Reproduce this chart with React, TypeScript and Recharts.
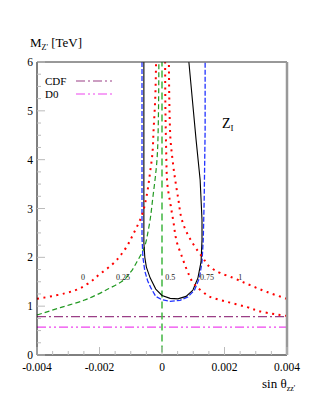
import React from 'react';
import {
  ComposedChart,
  Line,
  Scatter,
  XAxis,
  YAxis
} from 'recharts';

// curve "0" (red dotted, left)
const curve0X = [-0.004, -0.0034, -0.0028, -0.0024, -0.002, -0.0016, -0.0012, -0.0009, -0.00065, -0.00048, -0.00038, -0.00031, -0.00027, -0.00022, -0.00019];
const curve0M = [1.15, 1.22, 1.32, 1.45, 1.65, 1.85, 2.15, 2.5, 2.85, 3.3, 3.75, 4.1, 4.6, 5.2, 6];

// curve "0.25" (green dashed, left)
const curve25X = [-0.004, -0.0032, -0.0025, -0.0021, -0.0017, -0.0013, -0.001, -0.0008, -0.0006, -0.00042, -0.00029, -0.00016, -0.00012, -0.0001];
const curve25M = [0.82, 0.98, 1.12, 1.23, 1.36, 1.5, 1.7, 1.91, 2.15, 2.62, 3.24, 4.0, 4.7, 6];

// curve "0.5" (green dashed, vertical)
const curve50X = [0, 0];
const curve50M = [0.05, 6];

// curve "0.75" (red dotted, right inner)
const curve75X = [0.004, 0.00323, 0.00272, 0.00208, 0.00154, 0.00131, 0.00106, 0.0008, 0.00064, 0.00048, 0.00036, 0.00028, 0.00016, 0.00013, 0.00011, 0.0001];
const curve75M = [0.8, 0.88, 0.98, 1.09, 1.19, 1.29, 1.43, 1.74, 2.01, 2.3, 2.75, 3.05, 3.59, 4.3, 5.0, 6];

// curve "1" (red dotted, right outer)
const curve100X = [0.004, 0.00336, 0.00282, 0.00227, 0.00186, 0.00154, 0.00131, 0.00106, 0.00083, 0.00067, 0.00051, 0.00035, 0.00026, 0.00022];
const curve100M = [1.15, 1.29, 1.43, 1.58, 1.68, 1.8, 1.99, 2.21, 2.46, 2.7, 3.24, 3.93, 4.55, 6];

// Z_I allowed region (black solid)
const blackX = [-0.00058, -0.00058, -0.00055, -0.0005, -0.00038, -0.0002, 0, 0.00026, 0.00051, 0.00077, 0.00099, 0.00115, 0.00125, 0.00128, 0.00128, 0.00122, 0.00109, 0.00086];
const blackM = [6, 2.3, 2.0, 1.8, 1.58, 1.35, 1.22, 1.16, 1.15, 1.2, 1.33, 1.58, 1.91, 2.36, 2.77, 3.59, 4.41, 6];

// blue dashed region
const blueX = [-0.00064, -0.00064, -0.00061, -0.00055, -0.00046, -0.00036, -0.0002, 0, 0.00026, 0.00058, 0.00083, 0.00104, 0.0012, 0.00128, 0.00132, 0.00135, 0.00138, 0.00138];
const blueM = [6, 2.4, 2.0, 1.72, 1.52, 1.38, 1.2, 1.13, 1.1, 1.12, 1.19, 1.33, 1.58, 1.91, 2.36, 3.18, 4.61, 6];

// Tevatron limits
const limitX = [-0.004, 0.004];
const cdfM = [0.785, 0.785];
const d0M = [0.57, 0.57];

// curve labels
const labelTexts = ['0', '0.25', '0.5', '0.75', '1'];
const labelX = [-0.00253, -0.00125, 0.00026, 0.00144, 0.0025];
const labelM = [1.6, 1.6, 1.6, 1.6, 1.6];

const zip = (xs: number[], ms: number[]) => xs.map((x, i) => ({ x, m: ms[i] }));
const range = (a: number, b: number, step: number) => {
  const out: number[] = [];
  for (let v = a; v <= b + step / 2; v += step) out.push(+v.toFixed(6));
  return out;
};
// every minor tick; majors are picked out in the tick renderers
const xTicks = range(-0.004, 0.004, 0.0005);
const yTicks = range(0, 6, 0.25);

const labelData = labelX.map((x, i) => ({ x, m: labelM[i], text: labelTexts[i] }));

const FONT = '"Liberation Serif", "Times New Roman", serif';
const CDF = '#9a3f86';
const D0 = '#ee44ee';
const TICK = '#bbb';

const isMult = (v: number, step: number) => Math.abs(v / step - Math.round(v / step)) < 1e-6;
const fmtX = (v: number) => (v === 0 ? '0' : v.toFixed(3));

const BottomTick = ({ x, y, payload }: any) => {
  const major = isMult(payload.value, 0.002);
  return (
    <g>
      <line x1={x} x2={x} y1={y} y2={y - (major ? 8 : 4)} stroke={TICK} />
      {major && (
        <text x={x} y={y + 15.5} textAnchor="middle" fontSize={11.5} fontFamily={FONT} fill="#000">
          {fmtX(payload.value)}
        </text>
      )}
    </g>
  );
};

const TopTick = ({ x, y, payload }: any) => {
  const major = isMult(payload.value, 0.002);
  return <line x1={x} x2={x} y1={y} y2={y + (major ? 8 : 4)} stroke={TICK} />;
};

const LeftTick = ({ x, y, payload }: any) => {
  const major = isMult(payload.value, 1);
  return (
    <g>
      <line x1={x} x2={x + (major ? 8 : 4)} y1={y} y2={y} stroke={TICK} />
      {major && (
        <text x={x - 4} y={y + 4} textAnchor="end" fontSize={11.5} fontFamily={FONT} fill="#000">
          {payload.value}
        </text>
      )}
    </g>
  );
};

const RightTick = ({ x, y, payload }: any) => {
  const major = isMult(payload.value, 1);
  return <line x1={x - 1} x2={x - 1 - (major ? 8 : 4)} y1={y} y2={y} stroke={TICK} />;
};

const CurveLabel = (props: any) => {
  const { cx, cy, payload } = props;
  return (
    <text x={cx} y={cy + 3} fontSize={8} textAnchor="middle" fontFamily={FONT} fill="#222">
      {payload.text}
    </text>
  );
};

export default function App() {
  return (
    <div style={{ position: 'absolute', left: 0, top: 0, width: 323, height: 418, background: '#fff', fontFamily: FONT }}>
      <ComposedChart width={323} height={418} margin={{ top: 61, right: 35, bottom: 62, left: 36 }}>
        <XAxis
          dataKey="x"
          type="number"
          domain={[-0.004, 0.004]}
          ticks={xTicks}
          interval={0}
          height={1}
          tickSize={0}
          tickMargin={0}
          tickLine={false}
          axisLine={{ stroke: '#000' }}
          tick={BottomTick}
        />
        <XAxis xAxisId="top" orientation="top" type="number" domain={[-0.004, 0.004]} ticks={xTicks} interval={0}
          height={1} tickSize={0} tickMargin={0} tickLine={false} axisLine={{ stroke: '#333' }} tick={TopTick} />
        <YAxis
          dataKey="m"
          type="number"
          domain={[0, 6]}
          ticks={yTicks}
          interval={0}
          width={1}
          tickSize={0}
          tickMargin={0}
          tickLine={false}
          axisLine={{ stroke: '#000' }}
          tick={LeftTick}
        />
        <YAxis yAxisId="right" orientation="right" type="number" domain={[0, 6]} ticks={yTicks} interval={0}
          width={1} tickSize={0} tickMargin={0} tickLine={false} axisLine={{ stroke: '#999', strokeWidth: 2.5 }} tick={RightTick} />

        <Line data={zip(limitX, cdfM)} dataKey="m" type="linear" stroke={CDF} strokeWidth={1.2}
          strokeDasharray="9 3 2 3" dot={false} isAnimationActive={false} />
        <Line data={zip(limitX, d0M)} dataKey="m" type="linear" stroke={D0} strokeWidth={1.2}
          strokeDasharray="9 3 2 3 2 3" dot={false} isAnimationActive={false} />

        <Line data={zip(curve50X, curve50M)} dataKey="m" type="linear" stroke="#4cbb4c" strokeWidth={1.6}
          strokeDasharray="7 4" dot={false} isAnimationActive={false} />
        <Line data={zip(curve25X, curve25M)} dataKey="m" type="monotoneY" stroke="#229922" strokeWidth={1.2}
          strokeDasharray="5 3" dot={false} isAnimationActive={false} />

        <Line data={zip(blueX, blueM)} dataKey="m" type="linear" stroke="#2233ff" strokeWidth={1.3}
          strokeDasharray="5 2" dot={false} isAnimationActive={false} />
        <Line data={zip(blackX, blackM)} dataKey="m" type="linear" stroke="#000" strokeWidth={1.1}
          dot={false} isAnimationActive={false} />

        <Line data={zip(curve0X, curve0M)} dataKey="m" type="monotoneY" stroke="#ff0000" strokeWidth={2}
          strokeDasharray="2 4.5" dot={false} isAnimationActive={false} />
        <Line data={zip(curve75X, curve75M)} dataKey="m" type="monotoneY" stroke="#ff0000" strokeWidth={2}
          strokeDasharray="2 4.5" dot={false} isAnimationActive={false} />
        <Line data={zip(curve100X, curve100M)} dataKey="m" type="monotoneY" stroke="#ff0000" strokeWidth={2}
          strokeDasharray="2 4.5" dot={false} isAnimationActive={false} />

        <Scatter data={labelData} dataKey="m" shape={CurveLabel} isAnimationActive={false} />
      </ComposedChart>

      <svg width={323} height={418} style={{ position: 'absolute', left: 0, top: 0, pointerEvents: 'none' }}>
        <g fontFamily={FONT} fill="#000">
          <text x={30} y={47} fontSize={13}>
            M<tspan fontSize={8} dy={3}>Z'</tspan><tspan fontSize={13} dy={-3}> [TeV]</tspan>
          </text>
          <text x={262} y={388} fontSize={13}>
            sin θ<tspan fontSize={8} dy={3}>zz'</tspan>
          </text>
          <text x={222} y={128} fontSize={14}>
            Z<tspan fontSize={9} dy={3}>I</tspan>
          </text>
          <text x={45} y={85} fontSize={11}>CDF</text>
          <text x={45} y={98} fontSize={11}>D0</text>
        </g>
        <line x1={76} x2={112} y1={81} y2={81} stroke={CDF} strokeWidth={1.2} strokeDasharray="9 3 2 3" />
        <line x1={76} x2={113} y1={94} y2={94} stroke={D0} strokeWidth={1.2} strokeDasharray="9 3 2 3 2 3" />
      </svg>
    </div>
  );
}
